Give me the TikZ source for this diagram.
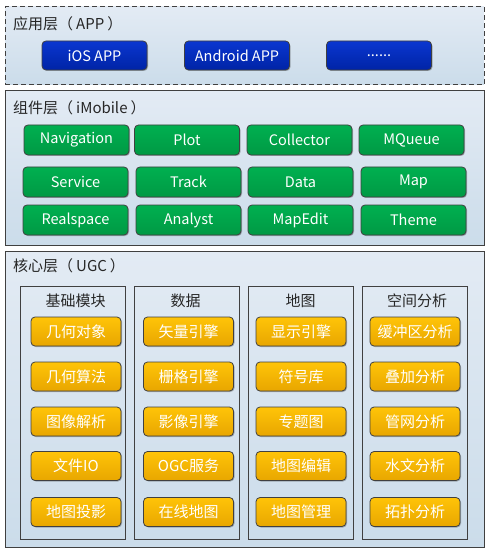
\documentclass[tikz,border=0pt]{standalone}
\usepackage{fontspec}
\setmainfont{Noto Sans CJK SC}
\usetikzlibrary{shadows}
\definecolor{bgtop}{HTML}{E3EBF4}
\definecolor{bgbot}{HTML}{CBDCEA}
\definecolor{edge}{HTML}{404040}
\definecolor{bluetop}{HTML}{0A36D0}
\definecolor{bluebot}{HTML}{0024A6}
\definecolor{greentop}{HTML}{00B050}
\definecolor{greenbot}{HTML}{009944}
\definecolor{yeltop}{HTML}{FFC408}
\definecolor{yelbot}{HTML}{E8A600}
\tikzset{
  layer/.style={draw=edge, line width=1pt, top color=bgtop, bottom color=bgbot, inner sep=0pt},
  colbox/.style={draw=edge, line width=0.9pt, inner sep=0pt, minimum width=105, minimum height=253},
  btn/.style={draw=edge, line width=0.8pt, rounded corners=4pt, text=white, font=\fontsize{14.5}{15}\selectfont, inner sep=0pt,
    general shadow={shadow xshift=1pt, shadow yshift=-1pt, fill=black, opacity=0.25}},
  bluebtn/.style={btn, top color=bluetop, bottom color=bluebot, minimum width=105, minimum height=29},
  greenbtn/.style={btn, top color=greentop, bottom color=greenbot, minimum width=105, minimum height=30},
  yelbtn/.style={btn, top color=yeltop, bottom color=yelbot, minimum width=90, minimum height=29, font=\fontsize{15}{16}\selectfont},
  ttl/.style={anchor=west, inner sep=0pt, font=\fontsize{15}{16}\selectfont, text=black!85},
  hdr/.style={inner sep=0pt, font=\fontsize{15}{16}\selectfont, text=black!85},
}
\begin{document}
\begin{tikzpicture}[x=1pt, y=-1pt]
\useasboundingbox[fill=white] (0,0) rectangle (491,553);
% layers
\node[layer, dash pattern=on 5pt off 3pt, minimum width=479, minimum height=78] (L1) at (244.5,46) {};
\node[layer, minimum width=479, minimum height=154] (L2) at (244.5,168) {};
\node[layer, minimum width=479, minimum height=296] (L3) at (244.5,399) {};
\node[ttl] (t1) at (13,24) {应用层（\hspace{3pt}APP\hspace{3pt}）};
\node[ttl] (t2) at (13,108) {组件层（\hspace{3pt}iMobile\hspace{3pt}）};
\node[ttl] (t3) at (13,266) {核心层（\hspace{3pt}UGC\hspace{3pt}）};
% app
\node[bluebtn] (ios) at (94.5,55.5) {iOS APP};
\node[bluebtn] (android) at (237,55.5) {Android APP};
\node[bluebtn] (more) at (379,55.5) {......};
% components
\node[greenbtn] (nav) at (76.5,140) {Navigation};
\node[greenbtn] (plot) at (187,140) {Plot};
\node[greenbtn] (coll) at (299.5,140) {Collector};
\node[greenbtn] (mq) at (411.5,140) {MQueue};
\node[greenbtn] (serv) at (75.5,182) {Service};
\node[greenbtn] (track) at (188.5,182) {Track};
\node[greenbtn] (data) at (300.5,182) {Data};
\node[greenbtn] (map) at (413.5,182) {Map};
\node[greenbtn] (rs) at (75.5,220) {Realspace};
\node[greenbtn] (anal) at (188.5,220) {Analyst};
\node[greenbtn] (medit) at (300.5,220) {MapEdit};
\node[greenbtn] (theme) at (413.5,220) {Theme};
% core columns
\node[colbox] (c1) at (73,412.5) {};
\node[colbox] (c2) at (186.8,412.5) {};
\node[colbox] (c3) at (300.8,412.5) {};
\node[colbox] (c4) at (415,412.5) {};
\node[hdr] (h1) at (75.5,301) {基础模块};
\node[hdr] (h2) at (185.5,301) {数据};
\node[hdr] (h3) at (300.5,301) {地图};
\node[hdr] (h4) at (417,301) {空间分析};
% column 1
\node[yelbtn] (a1) at (76,331.5) {几何对象};
\node[yelbtn] (a2) at (76,376.5) {几何算法};
\node[yelbtn] (a3) at (76,421.5) {图像解析};
\node[yelbtn] (a4) at (76,466) {文件IO};
\node[yelbtn] (a5) at (76,512) {地图投影};
% column 2
\node[yelbtn] (b1) at (188.5,331.5) {矢量引擎};
\node[yelbtn] (b2) at (188.5,376.5) {栅格引擎};
\node[yelbtn] (b3) at (188.5,421.5) {影像引擎};
\node[yelbtn] (b4) at (188.5,466) {OGC服务};
\node[yelbtn] (b5) at (188.5,512) {在线地图};
% column 3
\node[yelbtn] (d1) at (301,331.5) {显示引擎};
\node[yelbtn] (d2) at (301,376.5) {符号库};
\node[yelbtn] (d3) at (301,421.5) {专题图};
\node[yelbtn] (d4) at (301,466) {地图编辑};
\node[yelbtn] (d5) at (301,512) {地图管理};
% column 4
\node[yelbtn] (e1) at (415,331.5) {缓冲区分析};
\node[yelbtn] (e2) at (415,376.5) {叠加分析};
\node[yelbtn] (e3) at (415,421.5) {管网分析};
\node[yelbtn] (e4) at (415,466) {水文分析};
\node[yelbtn] (e5) at (415,512) {拓扑分析};
\end{tikzpicture}
\end{document}
